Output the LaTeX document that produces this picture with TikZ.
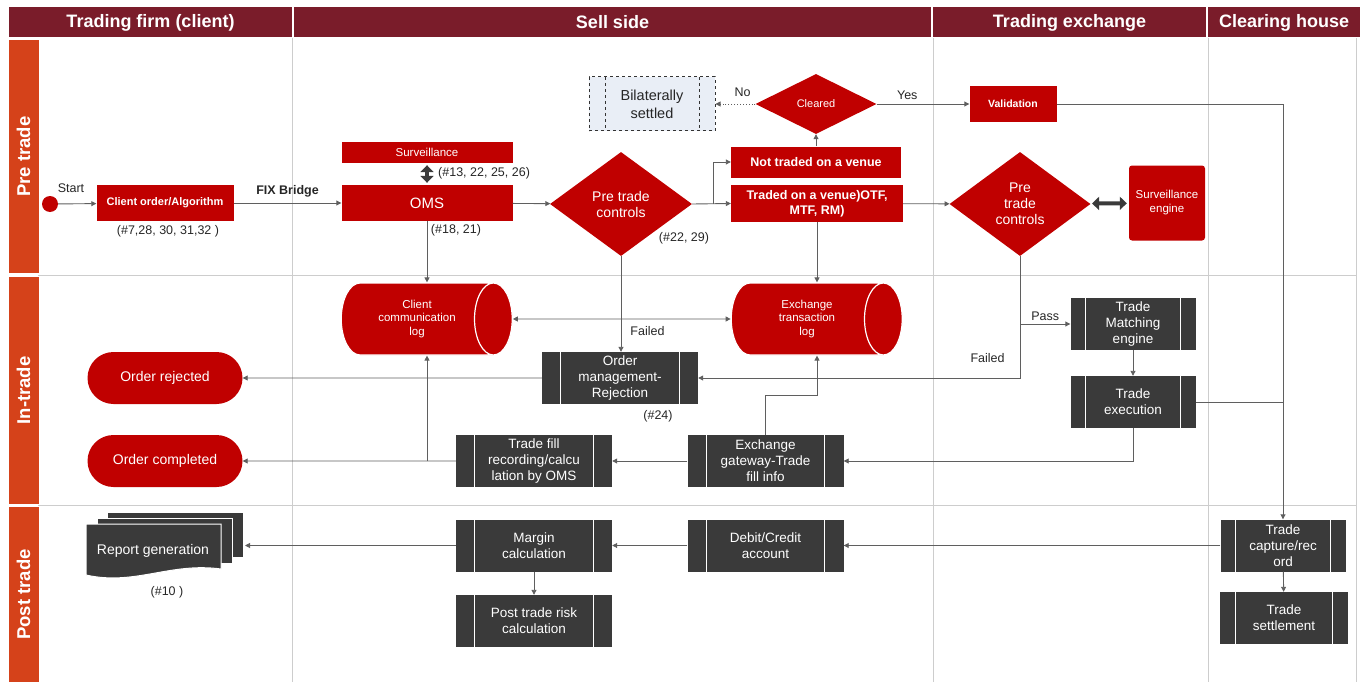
\documentclass[tikz,border=0pt]{standalone}
\usepackage{fontspec}
\setmainfont{Liberation Sans}
\usetikzlibrary{shapes.geometric,shapes.misc,arrows.meta,calc}
\definecolor{hdrred}{RGB}{122,28,42}
\definecolor{bandred}{RGB}{213,66,26}
\definecolor{nodered}{RGB}{192,0,0}
\definecolor{boxgrey}{RGB}{58,58,58}
\definecolor{lanegrey}{RGB}{205,205,205}
\definecolor{linegrey}{RGB}{95,95,95}
\definecolor{bilatfill}{RGB}{233,238,246}

\begin{document}
\begin{tikzpicture}[x=1pt, y=-1pt,
    hdr/.style={fill=hdrred, text=white, minimum height=30pt, inner sep=0pt, font=\fontsize{18}{20}\selectfont\bfseries},
    band/.style={fill=bandred, text=white, rotate=90, minimum height=30pt, inner sep=0pt, font=\fontsize{18.5}{20}\selectfont\bfseries},
    redbox/.style={fill=nodered, text=white, inner sep=0pt, align=center},
    dia/.style={diamond, fill=nodered, text=white, inner sep=0pt, align=center, font=\fontsize{14}{16}\selectfont},
    stadium/.style={rounded rectangle, fill=nodered, text=white, minimum width=155pt, minimum height=52pt, inner sep=0pt, font=\fontsize{14}{16}\selectfont},
    dbase/.style={cylinder, shape aspect=1, cylinder uses custom fill, cylinder body fill=nodered, cylinder end fill=nodered, draw=white, line width=1.2pt, minimum height=171pt, minimum width=72pt, inner sep=0pt, text=white, align=center, font=\fontsize{11.5}{13.5}\selectfont},
    procbox/.style={rectangle, fill=boxgrey, text=white, minimum width=156pt, minimum height=52pt, inner sep=0pt, align=center, font=\fontsize{13.5}{16}\selectfont,
        path picture={
            \draw[white, line width=1.2pt] ($(path picture bounding box.north west)!0.12!(path picture bounding box.north east)$) -- ($(path picture bounding box.south west)!0.12!(path picture bounding box.south east)$);
            \draw[white, line width=1.2pt] ($(path picture bounding box.north east)!0.12!(path picture bounding box.north west)$) -- ($(path picture bounding box.south east)!0.12!(path picture bounding box.south west)$);
        }},
    bilatbox/.style={rectangle, fill=bilatfill, draw=black!80, dashed, line width=1pt, minimum width=126pt, minimum height=54pt, inner sep=0pt, align=center, text=black!85, font=\fontsize{14.5}{18}\selectfont,
        path picture={
            \draw[black!80, dashed, line width=1pt] ([xshift=16pt]path picture bounding box.north west) -- ([xshift=16pt]path picture bounding box.south west);
            \draw[black!80, dashed, line width=1pt] ([xshift=-16pt]path picture bounding box.north east) -- ([xshift=-16pt]path picture bounding box.south east);
        }},
    lbl/.style={text=black!85, inner sep=1pt, font=\fontsize{12.5}{15}\selectfont},
    conn/.style={draw=linegrey, line width=0.9pt, -{Triangle[length=5pt, width=5pt]}},
    thickarr/.style={draw=boxgrey, line width=4pt, {Triangle[length=7pt, width=13pt]}-{Triangle[length=7pt, width=13pt]}}
]
    \useasboundingbox (0,0) rectangle (1362,682);

    % swim lanes
    \foreach \xl in {292,933,1208,1356} {
        \draw[lanegrey] (\xl,38) -- (\xl,682);
    }
    \foreach \yl in {275,505} {
        \draw[lanegrey] (38,\yl) -- (1356,\yl);
    }
    \node[hdr, minimum width=283pt] (hfirm) at (150.5,22.5) {Trading firm (client)};
    \node[hdr, minimum width=637pt] (hsell) at (612.5,22.5) {Sell side};
    \node[hdr, minimum width=273pt] (hexch) at (1069.5,22.5) {Trading exchange};
    \node[hdr, minimum width=152pt] (hclear) at (1284,22.5) {Clearing house};
    \node[band, minimum width=233pt] (bpre) at (23.5,156.5) {Pre trade};
    \node[band, minimum width=227pt] (bin) at (23.5,390.5) {In-trade};
    \node[band, minimum width=175pt] (bpost) at (23.5,594.5) {Post trade};

    % pre trade
    \node[circle, fill=nodered, minimum size=16pt, inner sep=0pt] (start) at (50,204) {};
    \node[lbl] (startlbl) at (71,188) {Start};
    \node[redbox, minimum width=137pt, minimum height=36pt, font=\fontsize{11}{13}\selectfont\bfseries] (cord) at (165,203) {Client order/Algorithm};
    \node[lbl] (cordref) at (168,231) {(\#7,28, 30, 31,32 )};
    \node[redbox, minimum width=171pt, minimum height=21pt, font=\fontsize{11.5}{13}\selectfont] (surv) at (427,152.5) {Surveillance};
    \node[redbox, minimum width=171pt, minimum height=36pt, font=\fontsize{15}{18}\selectfont] (oms) at (427,203) {OMS};
    \node[lbl, anchor=west] (survref) at (437,173) {(\#13, 22, 25, 26)};
    \node[lbl] (omsref) at (456,230) {(\#18, 21)};
    \node[dia, minimum width=142pt, minimum height=104pt] (pc1) at (621,204) {Pre trade\\controls};
    \node[lbl] (pc1ref) at (684,238) {(\#22, 29)};
    \node[bilatbox] (bilat) at (652,104) {Bilaterally\\settled};
    \node[dia, minimum width=121pt, minimum height=60pt, font=\fontsize{11}{13}\selectfont] (clr) at (816,104) {Cleared};
    \node[redbox, minimum width=87pt, minimum height=36pt, font=\fontsize{10.5}{13}\selectfont\bfseries] (valid) at (1013,104) {Validation};
    \node[redbox, minimum width=170pt, minimum height=31pt, font=\fontsize{12.5}{15}\selectfont\bfseries] (ntv) at (816,162) {Not traded on a venue};
    \node[redbox, minimum width=172pt, minimum height=37pt, font=\fontsize{12.5}{15}\selectfont\bfseries] (tv) at (817,203.5) {Traded on a venue)OTF,\\MTF, RM)};
    \node[dia, minimum width=141pt, minimum height=104pt] (pc2) at (1020,204) {Pre\\trade\\controls};
    \node[redbox, rounded corners=3pt, minimum width=76pt, minimum height=75pt, font=\fontsize{11.5}{14}\selectfont] (seng) at (1167,203) {Surveillance\\engine};
    \coordinate (split) at (713,204);

    % in trade
    \node[dbase] (cclog) at (417,319) {Client\\communication\\log};
    \node[dbase] (exlog) at (807,319) {Exchange\\transaction\\log};
    \node[procbox] (rej) at (620,378) {Order\\management-\\Rejection};
    \node[lbl] (rejref) at (658,416) {(\#24)};
    \node[stadium] (orej) at (165,378) {Order rejected};
    \node[stadium] (ocomp) at (165,461) {Order completed};
    \node[procbox, minimum width=125pt] (tme) at (1133,324) {Trade\\Matching\\engine};
    \node[procbox, minimum width=125pt] (tex) at (1133,402) {Trade\\execution};
    \node[procbox] (gw) at (765.5,461) {Exchange\\gateway-Trade\\fill info};
    \node[procbox] (tfr) at (534,461) {Trade fill\\recording/calcu\\lation by OMS};

    % post trade
    \node[procbox, minimum width=125pt] (tcap) at (1283,545.5) {Trade\\capture/rec\\ord};
    \node[procbox, minimum width=128pt] (tset) at (1284,618) {Trade\\settlement};
    \node[procbox] (dca) at (765.5,545.5) {Debit/Credit\\account};
    \node[procbox] (marg) at (534,545.5) {Margin\\calculation};
    \node[procbox] (ptr) at (534,621) {Post trade risk\\calculation};
    \draw[fill=boxgrey, draw=white, line width=1pt] (107,512) rectangle (243,557);
    \draw[fill=boxgrey, draw=white, line width=1pt] (97,518) rectangle (232,563);
    \draw[fill=boxgrey, draw=white, line width=1pt] (86,524) -- (221,524) -- (221,569) .. controls (170,562) and (135,586) .. (86,575) -- cycle;
    \node[text=white, font=\fontsize{14}{16}\selectfont] (rep) at (153,551) {Report generation};
    \node[lbl] (repref) at (167,592) {(\#10 )};
    \coordinate (repin) at (245,545.5);

    % connectors
    \draw[conn] (start) -- (cord);
    \draw[conn] (cord) -- (oms) node[midway, above=4pt, lbl, font=\fontsize{12.5}{15}\selectfont\bfseries] {FIX Bridge};
    \draw[thickarr, shorten <=2pt, shorten >=2pt] (surv) -- (oms);
    \draw[conn] (oms) -- (pc1);
    \draw[conn] (pc1.east) -- (tv.west);
    \draw[conn] (split) |- (ntv.west);
    \draw[conn] (ntv) -- (clr);
    \draw[conn, dotted] (clr) -- (bilat) node[pos=0.32, above=6pt, lbl] {No};
    \draw[conn] (clr) -- (valid) node[pos=0.33, above=3pt, lbl] {Yes};
    \draw[conn] (valid.east) -| (tcap.north);
    \draw[conn] (tv) -- (pc2);
    \draw[thickarr, shorten <=2pt, shorten >=2pt] (pc2) -- (seng);
    \draw[conn] (tv.south) -- (tv.south |- exlog.north);
    \draw[conn] (oms.south) -- (oms.south |- cclog.north);
    \draw[conn, {Triangle[length=5pt, width=5pt]}-{Triangle[length=5pt, width=5pt]}] (cclog.east) -- (exlog.west);
    \draw[conn] (pc1.south) -- (pc1.south |- rej.north) node[pos=0.78, right=8pt, lbl] {Failed};
    \draw[conn] (rej) -- (orej);
    \draw[conn] (pc2.south) |- (rej.east) node[pos=0.42, left=14pt, lbl] {Failed};
    \draw[conn] (pc2.south |- tme.west) -- (tme.west) node[midway, above=2pt, lbl] {Pass};
    \draw[conn] (tme) -- (tex);
    \draw[draw=linegrey, line width=0.9pt] (tex.east) -- (tex.east -| tcap.north);
    \draw[conn] (tex.south) |- (gw.east);
    \draw[conn] (gw.north) -- ++(0,-39) -| (tv.south |- exlog.south);
    \draw[conn] (gw) -- (tfr);
    \draw[conn] (tfr) -- (ocomp);
    \draw[conn] (oms.south |- tfr.west) -- (oms.south |- cclog.south);
    \draw[conn] (tcap) -- (tset);
    \draw[conn] (tcap) -- (dca);
    \draw[conn] (dca) -- (marg);
    \draw[conn] (marg) -- (repin);
    \draw[conn] (marg) -- (ptr);
\end{tikzpicture}
\end{document}
